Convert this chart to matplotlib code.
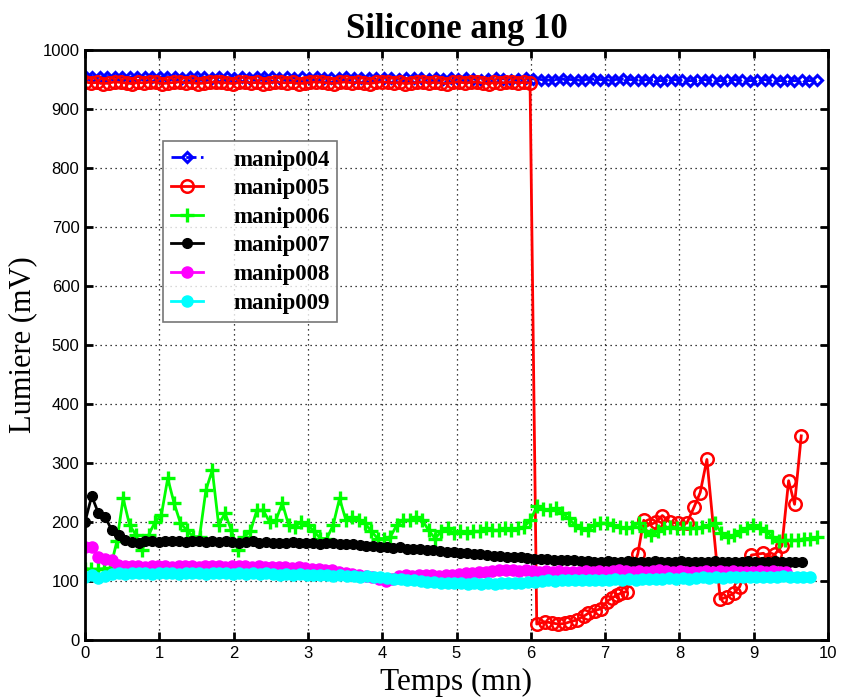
import numpy as np
import matplotlib
matplotlib.use("Agg")
import matplotlib.pyplot as plt

# ---- data -------------------------------------------------------------
manip004 = [956, 955, 954, 955, 954, 955, 954, 955, 954, 955,
            954, 955, 954, 953, 954, 955, 954, 953, 954, 954,
            953, 954, 953, 954, 955, 954, 953, 954, 953, 954,
            953, 954, 953, 952, 953, 954, 953, 952, 953, 952,
            953, 952, 951, 952, 953, 952, 951, 952, 951, 952,
            951, 952, 951, 950, 951, 952, 951, 950, 951, 952,
            951, 950, 949, 950, 951, 950, 949, 950, 951, 950,
            949, 950, 951, 950, 949, 950, 949, 948, 949, 950,
            949, 948, 949, 950, 949, 948, 949, 950, 949, 948,
            949, 950, 949, 948, 949, 948, 949, 948, 949]
t004_end = 9.85

manip005_head = [946, 944, 945, 943, 944, 946, 945, 944, 943, 945,
                 944, 946, 945, 943, 944, 945, 946, 944, 945, 943,
                 944, 945, 946, 945, 944, 943, 945, 946, 944, 945,
                 943, 944, 946, 945, 944, 945, 943, 944, 945, 946,
                 945, 944, 943, 945, 946, 944, 945, 944, 943, 945,
                 946, 945, 944, 945, 943, 944, 945, 946, 944, 945,
                 944, 943, 945, 946, 944, 945, 946, 944, 943, 945,
                 944, 945, 946, 944, 945, 944]
t005_head_end = 5.99
t005_tail = [6.08, 6.19, 6.28, 6.37, 6.46, 6.53, 6.62, 6.71, 6.77, 6.86,
             6.95, 7.02, 7.09, 7.16, 7.22, 7.29, 7.37, 7.44, 7.52, 7.60,
             7.69, 7.77, 7.87, 7.98, 8.10, 8.20, 8.28, 8.37, 8.55, 8.64,
             8.73, 8.81, 8.97, 9.13, 9.22, 9.29, 9.38, 9.47, 9.55, 9.64]
manip005_tail = [27, 31, 29, 27, 28, 31, 34, 40, 45, 50,
                 53, 65, 71, 76, 80, 82, 120, 146, 203, 195,
                 200, 211, 200, 198, 198, 226, 250, 306, 69, 73,
                 79, 90, 144, 147, 138, 146, 160, 270, 230, 346]

manip006 = [121, 120, 120, 121, 122,
            167, 240, 195, 178, 153, 178, 200, 212, 274, 232,
            198, 186, 175, 175, 254, 288, 195, 215, 186, 153,
            175, 184, 220, 220, 200, 203, 232, 195, 192, 200,
            195, 184, 172, 172, 195, 240, 203, 209, 203, 198,
            184, 172, 172, 175, 195, 203, 203, 209, 203, 186,
            172, 184, 189, 181, 184, 181, 184, 184, 189, 186,
            186, 189, 186, 189, 192, 203, 227, 222, 220, 223,
            215, 206, 195, 189, 186, 195, 198, 198, 195, 192,
            189, 192, 198, 184, 178, 184, 189, 192, 189, 189,
            189, 189, 192, 195, 198, 181, 175, 178, 184, 189,
            195, 189, 184, 175, 167, 169, 169, 169, 172, 172, 174]
t006_end = 9.85

manip007 = [200, 244, 215, 209, 186, 178, 169,
            166, 165, 167, 168, 166, 167, 168, 167, 166, 167, 168, 166, 167, 166,
            167, 166, 165, 166, 167, 165, 166, 165, 164, 165, 166, 164, 165, 164,
            163, 164, 165, 163, 162, 163, 161, 160, 159, 158,
            157, 156, 157, 155, 154, 155, 153, 152, 151, 150, 149, 148, 147,
            146, 145, 144, 143, 142, 141, 140, 140, 139, 138,
            138, 137, 136, 136, 135, 135, 134, 134, 133, 133, 134, 133,
            133, 134, 133, 132, 133, 134, 133, 132, 133, 134, 133, 133, 132, 133,
            134, 133, 132, 133, 133, 134, 133, 132, 133, 134, 133, 133, 132, 133]
t007_end = 9.65

manip008 = [157, 157, 141, 138, 136, 127,
            125, 126, 125, 124, 125, 126, 125, 124, 125, 126, 125, 124, 125, 126,
            125, 124, 125, 126, 125, 124, 125, 124, 123, 124, 123, 122, 123, 122,
            121, 120,
            119, 118, 116, 114, 112, 110, 108, 106, 103, 100,
            104, 108, 110, 109, 110, 111, 110, 109, 110, 111, 112, 113,
            114, 115, 116, 117, 118, 119, 118, 117, 118, 117, 116, 117, 116, 117,
            116, 115, 116, 117, 116, 117, 116, 117, 118, 117, 116, 117, 116, 117,
            118, 117, 116, 117, 116, 115, 116, 117, 116, 117, 116, 117, 116, 115,
            116, 117, 116, 117, 116, 116]
t008_end = 9.44

manip009 = [107, 110, 105, 108,
            112, 113, 112, 113, 114, 113, 112, 113, 114, 113, 112, 113, 114, 113,
            112, 113, 114, 113, 112, 113, 112, 113, 112, 113, 112, 111, 112, 111,
            112, 111,
            110, 111, 110, 109, 110, 109, 108, 107, 108, 107, 106, 105, 104, 103,
            102, 101, 100, 99, 98, 97, 96, 96,
            96, 95, 96, 95, 96, 95, 96, 97, 96, 97, 98, 99, 100, 101, 100, 101,
            102, 101, 102, 101,
            102, 101, 102, 103, 102, 103, 102, 103, 104, 103, 104, 105, 104, 105,
            104, 105, 106, 105, 106, 105, 106, 107, 106, 107, 106, 107, 106, 107,
            108, 107, 106, 107, 107]
t009_end = 9.76

labels = ["manip004", "manip005", "manip006", "manip007", "manip008", "manip009"]
x_ticks = list(range(0, 11))
y_ticks = list(range(0, 1001, 100))

# ---- time axes --------------------------------------------------------
t004 = np.linspace(0, t004_end, len(manip004))
t005 = np.concatenate([np.linspace(0, t005_head_end, len(manip005_head)), t005_tail])
v005 = np.concatenate([manip005_head, manip005_tail])
t006 = np.linspace(0, t006_end, len(manip006))
t007 = np.linspace(0, t007_end, len(manip007))
t008 = np.linspace(0, t008_end, len(manip008))
t009 = np.linspace(0, t009_end, len(manip009))

# ---- figure -----------------------------------------------------------
fig = plt.figure(figsize=(8.45, 7.0), dpi=100)
ax = fig.add_axes([85 / 845, 1 - 640 / 700, 743 / 845, 590 / 700])

lw = 2.0
ax.plot(t004, manip004, color=(0, 0, 1), ls="--", lw=lw, marker="D", ms=5.5,
        mfc="none", mec=(0, 0, 1), mew=2.2, label=labels[0])
ax.plot(t005, v005, color=(1, 0, 0), ls="-", lw=lw, marker="o", ms=9,
        mfc="none", mec=(1, 0, 0), mew=1.8, label=labels[1])
ax.plot(t006, manip006, color=(0, 1, 0), ls="-", lw=lw, marker="+", ms=10,
        mew=2.4, label=labels[2])
ax.plot(t007, manip007, color="black", ls="-", lw=lw, marker="o", ms=7,
        mfc="black", mec="black", label=labels[3])
ax.plot(t008, manip008, color=(1, 0, 1), ls="-", lw=lw, marker="o", ms=8,
        mfc=(1, 0, 1), mec=(1, 0, 1), label=labels[4])
ax.plot(t009, manip009, color=(0, 1, 1), ls="-", lw=lw, marker="o", ms=8,
        mfc=(0, 1, 1), mec=(0, 1, 1), label=labels[5])

ax.set_xlim(0, 10)
ax.set_ylim(0, 1000)
ax.set_xticks(x_ticks)
ax.set_yticks(y_ticks)
ax.grid(True, color="black", ls=(0, (1, 3)), lw=0.9)
for s in ax.spines.values():
    s.set_linewidth(2)
ax.tick_params(direction="in", length=6, width=2, top=True, right=True,
               labelsize=12, pad=4)
for lab in ax.get_xticklabels() + ax.get_yticklabels():
    lab.set_family("Liberation Sans")

ax.set_title("Silicone ang 10", family="Liberation Serif", fontweight="bold",
             fontsize=25, pad=9)
ax.set_xlabel("Temps (mn)", family="Liberation Serif", fontsize=22.5, labelpad=5)
ax.set_ylabel("Lumiere (mV)", family="Liberation Serif", fontsize=22, labelpad=4)

leg = ax.legend(loc="upper left", bbox_to_anchor=(0.105, 0.845),
                prop={"family": "Liberation Serif", "weight": "bold", "size": 16.5},
                frameon=True, fancybox=False, edgecolor="#555555",
                labelspacing=0.33, handlelength=1.4, handletextpad=1.3,
                borderpad=0.35, borderaxespad=0)
leg.get_frame().set_linewidth(1.2)

fig.savefig("out.png", dpi=100)
